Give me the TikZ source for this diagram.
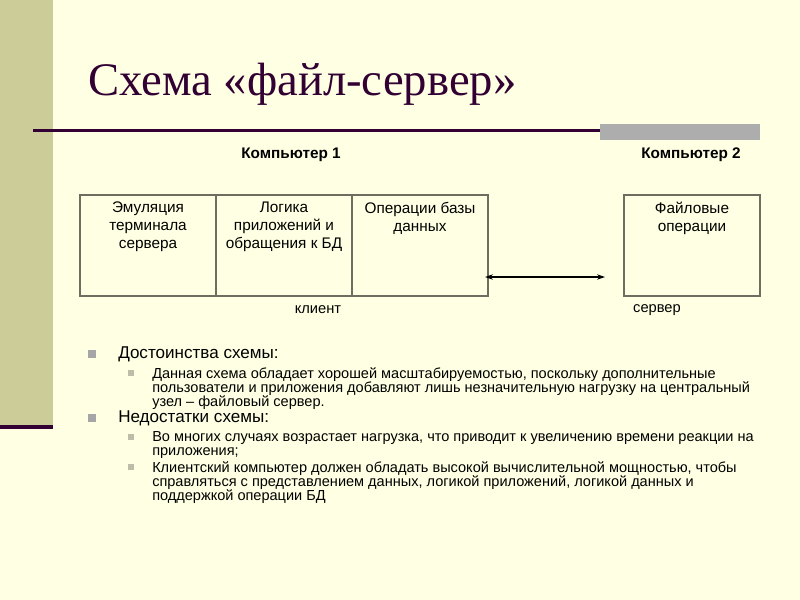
\documentclass[tikz,border=0pt]{standalone}
\usepackage{fontspec}
\setmainfont{Liberation Serif}
\setsansfont{Liberation Sans}
\usetikzlibrary{arrows.meta,positioning}

\definecolor{slidebg}{HTML}{FFFFE3}
\definecolor{barcol}{HTML}{CCCC99}
\definecolor{darkplum}{HTML}{330033}
\definecolor{graybar}{HTML}{ADADAD}
\definecolor{cellline}{HTML}{6E6E60}
\definecolor{bulgray}{HTML}{A6A6A6}
\definecolor{subgray}{HTML}{BDBDA8}

\begin{document}
\begin{tikzpicture}[x=0.75pt, y=-0.75pt,
  every node/.style={font=\sffamily},
  ttl/.style={font=\rmfamily\fontsize{35}{40}\selectfont, text=darkplum, inner sep=0pt},
  comp/.style={font=\sffamily\bfseries\fontsize{11.5}{13}\selectfont, inner sep=0pt},
  cell/.style={draw=cellline, line width=0.9pt, rectangle, minimum width=102pt,
               minimum height=75.75pt, inner sep=0pt, outer sep=0pt},
  celltxt/.style={font=\sffamily\fontsize{11.5}{13.5}\selectfont, align=center, inner sep=0pt},
  lbl/.style={font=\sffamily\fontsize{11}{13}\selectfont, inner sep=0pt},
  head/.style={font=\sffamily\fontsize{12.8}{14}\selectfont, inner sep=0pt},
  body/.style={font=\sffamily\fontsize{10.9}{10.5}\selectfont, align=left, inner sep=0pt},
  bul/.style={fill=bulgray, minimum size=6pt, inner sep=0pt},
  subbul/.style={fill=subgray, minimum size=4.5pt, inner sep=0pt},
  ar/.style={{Stealth[length=6pt,width=4pt]}-{Stealth[length=6pt,width=4pt]}, line width=0.8pt}]

%% --- slide background ---
\fill[slidebg] (0,0) rectangle (800,600);
\useasboundingbox (0,0) rectangle (800,600);
\fill[barcol] (0,0) rectangle (53,425);
\fill[darkplum] (0,425) rectangle (53,429);
\fill[darkplum] (33,129) rectangle (600,132);
\fill[graybar] (600,124) rectangle (760,140);

%% --- title ---
\node[ttl, anchor=base west] (title) at (88,95) {Схема «файл-сервер»};

%% --- computers ---
\node[comp] (comp1) at (291,155) {Компьютер 1};
\node[comp] (comp2) at (691,155) {Компьютер 2};

%% --- client cells ---
\node[cell, anchor=north west] (emul) at (80,195)
  {}; \node[celltxt, anchor=north] at ([yshift=-5pt]emul.north) {Эмуляция\\терминала\\сервера};
\node[cell, right=0pt of emul] (logic)
  {}; \node[celltxt, anchor=north] at ([yshift=-5pt]logic.north) {Логика\\приложений  и\\обращения к БД};
\node[cell, right=0pt of logic] (dbops)
  {}; \node[celltxt, anchor=north] at ([yshift=-5pt]dbops.north) {Операции базы\\данных};

%% --- server cell ---
\node[cell, anchor=north west] (fileops) at (624,195)
  {}; \node[celltxt, anchor=north] at ([yshift=-5pt]fileops.north) {Файловые\\операции};

\node[lbl] (client) at (318,310) {клиент};
\node[lbl] (server) at (657,310) {сервер};

%% --- link ---
\coordinate (linkL) at (485,277);
\coordinate (linkR) at (605,277);
\draw[ar] (linkL) -- (linkR);

%% --- bullets ---
\node[bul] (b1) at (92,354) {};
\node[head, anchor=west] (adv) at (118,354) {Достоинства схемы:};
\node[subbul] (s1) at (131,373) {};
\node[body, anchor=north west] (advtxt) at (152,367)
  {Данная схема  обладает хорошей масштабируемостью, поскольку дополнительные\\
   пользователи и приложения добавляют лишь незначительную нагрузку на центральный\\
   узел – файловый  сервер.};
\node[bul] (b2) at (92,418) {};
\node[head, anchor=west] (dis) at (118,418) {Недостатки схемы:};
\node[subbul] (s2) at (131,437) {};
\node[body, anchor=north west] (distxt1) at (152,431)
  {Во многих случаях  возрастает нагрузка, что приводит к увеличению времени реакции на\\
   приложения;};
\node[subbul] (s3) at (131,467) {};
\node[body, anchor=north west] (distxt2) at (152,461)
  {Клиентский компьютер должен  обладать высокой  вычислительной мощностью, чтобы\\
   справляться с представлением данных, логикой приложений, логикой данных и\\
   поддержкой операции БД};
\end{tikzpicture}
\end{document}
